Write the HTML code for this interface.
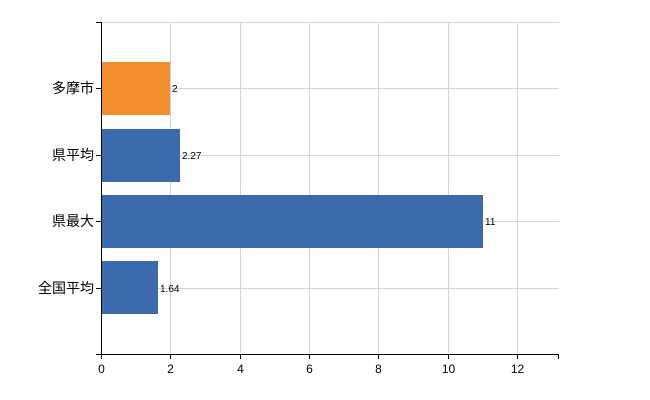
<!DOCTYPE html>
<html><head><meta charset="utf-8"><style>body{margin:0;background:#fff}svg{display:block}</style></head>
<body>
<svg width="650" height="400" xmlns="http://www.w3.org/2000/svg" font-family="'Liberation Sans','Noto Sans CJK JP',sans-serif">
<g stroke="#d4d4d4" stroke-width="1">
<line x1="101" y1="22.5" x2="559" y2="22.5"/>
<line x1="101" y1="88.5" x2="559" y2="88.5"/>
<line x1="101" y1="155.5" x2="559" y2="155.5"/>
<line x1="101" y1="221.5" x2="559" y2="221.5"/>
<line x1="101" y1="288.5" x2="559" y2="288.5"/>
<line x1="170.5" y1="22" x2="170.5" y2="354"/>
<line x1="240.5" y1="22" x2="240.5" y2="354"/>
<line x1="309.5" y1="22" x2="309.5" y2="354"/>
<line x1="378.5" y1="22" x2="378.5" y2="354"/>
<line x1="448.5" y1="22" x2="448.5" y2="354"/>
<line x1="517.5" y1="22" x2="517.5" y2="354"/>
</g>
<rect x="101" y="62" width="69" height="53" fill="#f28e2b"/>
<rect x="101" y="129" width="79" height="53" fill="#3b6aad"/>
<rect x="101" y="195" width="382" height="53" fill="#3b6aad"/>
<rect x="101" y="261" width="57" height="53" fill="#3b6aad"/>
<g stroke="#000" stroke-width="1">
<line x1="101.5" y1="22" x2="101.5" y2="354"/>
<line x1="96" y1="22.5" x2="101" y2="22.5"/>
<line x1="96" y1="88.5" x2="101" y2="88.5"/>
<line x1="96" y1="155.5" x2="101" y2="155.5"/>
<line x1="96" y1="221.5" x2="101" y2="221.5"/>
<line x1="96" y1="288.5" x2="101" y2="288.5"/>
<line x1="96" y1="354.5" x2="559" y2="354.5"/>
<line x1="101.5" y1="354" x2="101.5" y2="359"/>
<line x1="170.5" y1="354" x2="170.5" y2="359"/>
<line x1="240.5" y1="354" x2="240.5" y2="359"/>
<line x1="309.5" y1="354" x2="309.5" y2="359"/>
<line x1="378.5" y1="354" x2="378.5" y2="359"/>
<line x1="448.5" y1="354" x2="448.5" y2="359"/>
<line x1="517.5" y1="354" x2="517.5" y2="359"/>
<line x1="558.5" y1="354" x2="558.5" y2="359"/>
</g>
<g font-size="14" text-anchor="end" fill="#000">
<text x="94" y="93">多摩市</text>
<text x="94" y="160">県平均</text>
<text x="94" y="226">県最大</text>
<text x="94" y="293">全国平均</text>
</g>
<g font-size="10" fill="#000">
<text x="172" y="92">2</text>
<text x="182" y="159">2.27</text>
<text x="485" y="225">11</text>
<text x="160" y="292">1.64</text>
</g>
<g font-size="12" text-anchor="middle" fill="#000">
<text x="101.5" y="373">0</text>
<text x="170.5" y="373">2</text>
<text x="240.5" y="373">4</text>
<text x="309.5" y="373">6</text>
<text x="378.5" y="373">8</text>
<text x="448.5" y="373">10</text>
<text x="517.5" y="373">12</text>
</g>
</svg>
</body></html>
